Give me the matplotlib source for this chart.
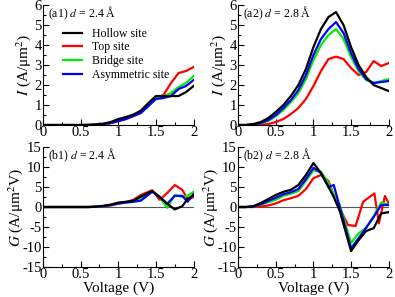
import numpy as np
import matplotlib
matplotlib.use("Agg")
from matplotlib import pyplot as plt
from matplotlib.ticker import MultipleLocator, FormatStrFormatter

plt.rcParams['font.family'] = ['Liberation Serif', 'DejaVu Serif']
plt.rcParams['mathtext.fontset'] = 'stix'
plt.rcParams['axes.unicode_minus'] = False

labels = ["Hollow site", "Top site", "Bridge site", "Asymmetric site"]
colors = ["black", "#ff0000", "#00ee00", "#0000ff"]

# voltage grid for the current curves
V = [0.0, 0.1, 0.2, 0.3, 0.4, 0.5, 0.6, 0.7, 0.8, 0.9, 1.0,
     1.1, 1.2, 1.3, 1.4, 1.5, 1.6, 1.7, 1.8, 1.9, 2.0]

# (a1) d = 2.4 A, current
I1_hollow = [0, 0, 0, 0, 0, 0, 0.01, 0.03, 0.07, 0.15, 0.3, 0.4, 0.52, 0.72, 1.1, 1.45, 1.45, 1.45, 1.45, 1.65, 1.95]
I1_top = [0, 0, 0, 0, 0, 0, 0, 0.01, 0.03, 0.1, 0.2, 0.3, 0.45, 0.65, 1.05, 1.35, 1.5, 2.1, 2.6, 2.7, 2.9]
I1_bridge = [0, 0, 0, 0, 0, 0, 0.01, 0.02, 0.05, 0.12, 0.25, 0.35, 0.5, 0.65, 1.0, 1.35, 1.45, 1.6, 1.9, 2.1, 2.45]
I1_asym = [0, 0, 0, 0, 0, 0, 0, 0.01, 0.04, 0.1, 0.2, 0.3, 0.45, 0.6, 0.95, 1.3, 1.35, 1.45, 1.8, 1.95, 2.25]

# (a2) d = 2.8 A, current
I2_hollow = [0, 0, 0.05, 0.15, 0.35, 0.65, 1.0, 1.45, 2.0, 2.8, 3.9, 4.8, 5.4, 5.65, 5.0, 3.9, 3.0, 2.4, 2.0, 1.85, 1.7]
I2_top = [0, 0, 0, 0.01, 0.05, 0.15, 0.3, 0.55, 0.85, 1.3, 1.95, 2.7, 3.3, 3.42, 3.3, 2.85, 2.5, 2.65, 3.2, 2.95, 3.1]
I2_bridge = [0, 0, 0.03, 0.1, 0.2, 0.45, 0.75, 1.15, 1.6, 2.3, 3.25, 4.0, 4.5, 4.8, 4.3, 3.4, 2.7, 2.25, 2.1, 2.2, 2.3]
I2_asym = [0, 0, 0.03, 0.1, 0.25, 0.5, 0.85, 1.25, 1.75, 2.5, 3.5, 4.3, 4.8, 5.15, 4.6, 3.6, 2.8, 2.3, 2.1, 2.15, 2.2]

# (b1) d = 2.4 A, conductance
Vb1 = [0.0, 0.2, 0.4, 0.6, 0.7, 0.8, 0.9, 1.0, 1.1, 1.2, 1.3, 1.45, 1.55, 1.65, 1.75, 1.85, 1.92, 2.0]
G1_hollow = [0, 0, 0, 0, 0.1, 0.3, 0.6, 1.1, 1.3, 1.6, 2.6, 4.0, 2.5, 0.8, -0.6, 0.2, 2.0, 3.0]
G1_top = [0, 0, 0, 0, 0.05, 0.2, 0.4, 0.8, 1.2, 1.8, 3.0, 4.2, 1.8, 3.5, 5.5, 4.3, 2.0, 2.5]
G1_bridge = [0, 0, 0, 0, 0.05, 0.2, 0.5, 1.0, 1.2, 1.5, 2.2, 4.0, 2.5, -0.2, 3.0, 2.5, 2.8, 3.8]
G1_asym = [0, 0, 0, 0, 0.05, 0.2, 0.5, 0.9, 1.1, 1.3, 1.6, 3.8, 2.5, 0.8, 2.8, 2.8, 1.3, 3.2]

# (b2) d = 2.8 A, conductance
Vb2 = [0.0, 0.1, 0.2, 0.3, 0.4, 0.5, 0.6, 0.7, 0.8, 0.9, 1.0, 1.1, 1.2, 1.27, 1.35, 1.5, 1.6, 1.7, 1.8, 1.9, 2.0]
G2_hollow = [0, 0, 0.2, 1.0, 2.0, 3.0, 3.8, 4.3, 5.5, 8.0, 11.0, 8.5, 5.0, 2.5, -1.0, -11.0, -8.3, -6.0, -5.3, -1.6, -1.3]
G2_bridge = [0, 0, 0.1, 0.6, 1.2, 1.8, 2.8, 3.3, 4.0, 6.5, 9.2, 8.8, 6.0, 3.0, 0.5, -9.0, -6.6, -5.2, -2.3, 1.1, 0.6]
G2_asym = [0, 0, 0.1, 0.7, 1.5, 2.3, 3.2, 3.7, 4.5, 7.0, 9.8, 8.5, 5.0, 5.5, 0.0, -10.3, -7.8, -5.2, -2.5, 0.5, 0.5]
Vb2_top = [0.0, 0.1, 0.2, 0.3, 0.4, 0.5, 0.6, 0.7, 0.8, 0.9, 1.0, 1.1, 1.2, 1.3, 1.46, 1.56, 1.66, 1.81, 1.87, 1.95, 2.0]
G2_top = [0, 0, 0, 0.1, 0.4, 0.9, 1.7, 2.2, 2.8, 4.5, 7.2, 8.0, 6.5, 1.5, -4.5, -4.75, 1.3, 3.4, -4.1, 2.75, 0.9]

fig = plt.figure(figsize=(3.95, 2.97), dpi=100)
L1, L2, W = 0.109, 0.603, 0.381
ax_a1 = fig.add_axes([L1, 0.579, W, 0.404])
ax_a2 = fig.add_axes([L2, 0.579, W, 0.404])
ax_b1 = fig.add_axes([L1, 0.101, W, 0.404])
ax_b2 = fig.add_axes([L2, 0.101, W, 0.404])


def style(ax, ymin, ymax, ymaj, ymin_step):
    ax.set_xlim(0, 2)
    ax.set_ylim(ymin, ymax)
    ax.spines['top'].set_visible(False)
    ax.spines['right'].set_visible(False)
    ax.xaxis.set_major_locator(MultipleLocator(0.5))
    ax.xaxis.set_minor_locator(MultipleLocator(0.25))
    ax.yaxis.set_major_locator(MultipleLocator(ymaj))
    ax.yaxis.set_minor_locator(MultipleLocator(ymin_step))
    ax.xaxis.set_major_formatter(FormatStrFormatter('%g'))
    ax.tick_params(which='both', direction='in', top=False, right=False,
                   labelsize=10.5, pad=1)
    ax.tick_params(which='major', length=4, width=0.8)
    ax.tick_params(which='minor', length=2.5, width=0.8)


I1 = [I1_hollow, I1_top, I1_bridge, I1_asym]
I2 = [I2_hollow, I2_top, I2_bridge, I2_asym]
G1 = [G1_hollow, G1_top, G1_bridge, G1_asym]
G2 = [G2_hollow, G2_top, G2_bridge, G2_asym]
Vb2_all = [Vb2, Vb2_top, Vb2, Vb2]

for ax in (ax_b1, ax_b2):
    ax.axhline(0, color='#555555', lw=0.8, zorder=1)

# draw in reverse so black is on top
for k in [1, 2, 3, 0]:
    ax_a1.plot(V, I1[k], color=colors[k], lw=1.6, label=labels[k])
    ax_a2.plot(V, I2[k], color=colors[k], lw=1.6)
    ax_b1.plot(Vb1, G1[k], color=colors[k], lw=1.6)
    ax_b2.plot(Vb2_all[k], G2[k], color=colors[k], lw=1.6)

for ax in (ax_a1, ax_a2):
    style(ax, 0, 6, 1, 0.5)
    ax.set_ylabel(r'$I$ (A/μm$^2$)', fontsize=11, labelpad=1)
for ax in (ax_b1, ax_b2):
    style(ax, -15, 15, 5, 2.5)
    ax.set_ylabel(r'$G$ (A/μm$^2$V)', fontsize=11, labelpad=-2)
    ax.set_xlabel('Voltage (V)', fontsize=11, labelpad=0)

ax_a1.text(0.03, 0.93, r'(a1) $d$ = 2.4 Å', transform=ax_a1.transAxes, fontsize=8.5, va='center')
ax_a2.text(0.03, 0.93, r'(a2) $d$ = 2.8 Å', transform=ax_a2.transAxes, fontsize=8.5, va='center')
ax_b1.text(0.03, 0.93, r'(b1) $d$ = 2.4 Å', transform=ax_b1.transAxes, fontsize=8.5, va='center')
ax_b2.text(0.03, 0.93, r'(b2) $d$ = 2.8 Å', transform=ax_b2.transAxes, fontsize=8.5, va='center')

h, l = ax_a1.get_legend_handles_labels()
hd = {lab: hh for hh, lab in zip(h, l)}
ax_a1.legend([hd[s] for s in labels], labels, loc='upper left', bbox_to_anchor=(0.08, 0.88),
             frameon=False, fontsize=8.5, handlelength=1.6, handletextpad=0.8,
             labelspacing=0.15, borderpad=0.2)

fig.savefig('out.png', dpi=100)
